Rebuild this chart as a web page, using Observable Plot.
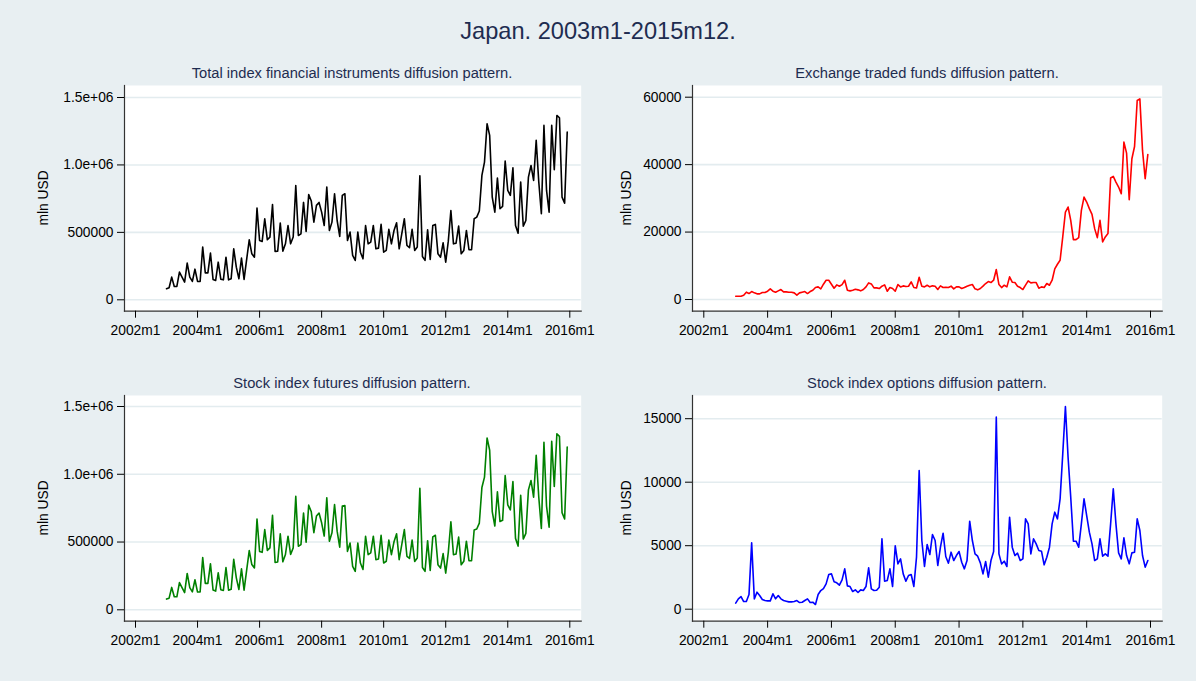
<!DOCTYPE html>
<html><head><meta charset="utf-8">
<script src="https://cdn.jsdelivr.net/npm/d3@7"></script>
<script src="https://cdn.jsdelivr.net/npm/@observablehq/plot@0.6"></script>
<style>
body{margin:0;background:#e8eff2;}
#chart{position:relative;width:1196px;height:681px;background:#e8eff2;font-family:"Liberation Sans",Arial,sans-serif;overflow:hidden;}
.title{position:absolute;left:0;width:1196px;text-align:center;font-size:23.6px;line-height:1;color:#1e2c50;white-space:nowrap;}
.sub{position:absolute;width:480px;text-align:center;font-size:14.7px;line-height:1;color:#1e2c50;white-space:nowrap;}
.panel{position:absolute;}
</style></head><body>
<div id="chart">
  <div class="title" style="top:19.5px">Japan. 2003m1-2015m12.</div>
  <div class="sub" style="left:112px;top:65.8px">Total index financial instruments diffusion pattern.</div>
  <div class="sub" style="left:687px;top:65.8px">Exchange traded funds diffusion pattern.</div>
  <div class="sub" style="left:112px;top:375.8px">Stock index futures diffusion pattern.</div>
  <div class="sub" style="left:687px;top:375.8px">Stock index options diffusion pattern.</div>
  <div class="panel" id="p1" style="left:0;top:60px"></div>
  <div class="panel" id="p2" style="left:598px;top:60px"></div>
  <div class="panel" id="p3" style="left:0;top:370px"></div>
  <div class="panel" id="p4" style="left:598px;top:370px"></div>
</div>
<script>
// months counted from 2002m1 (=0); first observation is 2003m1
const firstMonth = 12;
const xTickMonths = [0, 24, 48, 72, 96, 120, 144, 168];
const xTickLabels = ["2002m1","2004m1","2006m1","2008m1","2010m1","2012m1","2014m1","2016m1"];

// Total index financial instruments, mln USD, 2003m1..2015m12
const total = [
  81600, 89000, 168000, 99000, 99000, 205000, 168000, 131000, 272000, 168000, 136000, 227000,
  136000, 136000, 391000, 200000, 200000, 346000, 151000, 143000, 279000, 153000, 148000, 316000,
  148000, 156000, 378000, 242000, 156000, 309000, 151000, 300000, 445000, 341000, 316000, 680000,
  440000, 433000, 601000, 445000, 465000, 707000, 358000, 361000, 569000, 361000, 415000, 551000,
  415000, 465000, 848000, 477000, 489000, 722000, 507000, 781000, 732000, 576000, 700000, 722000,
  650000, 551000, 836000, 514000, 576000, 786000, 588000, 470000, 774000, 786000, 440000, 502000,
  329000, 292000, 502000, 353000, 304000, 551000, 415000, 428000, 551000, 378000, 383000, 559000,
  353000, 366000, 522000, 415000, 514000, 571000, 378000, 489000, 601000, 403000, 386000, 522000,
  366000, 391000, 920000, 321000, 292000, 519000, 299000, 551000, 559000, 341000, 316000, 423000,
  279000, 435000, 662000, 415000, 420000, 546000, 341000, 366000, 514000, 371000, 371000, 601000,
  613000, 658000, 922000, 1021000, 1305000, 1219000, 761000, 650000, 902000, 675000, 692000, 1028000,
  811000, 774000, 979000, 551000, 494000, 873000, 546000, 588000, 910000, 996000, 885000, 1182000,
  873000, 638000, 1293000, 811000, 650000, 1293000, 964000, 1367000, 1350000, 761000, 717000, 1243000
];

// Exchange traded funds
const etf = [
  985, 985, 985, 1280, 2170, 1770, 2360, 1970, 1670, 1670, 2070, 2070,
  2460, 3150, 2460, 2170, 2560, 2950, 2270, 2270, 2170, 2170, 1970, 1280,
  1970, 2170, 2360, 1770, 2360, 2760, 3550, 3740, 3150, 4530, 5710, 5710,
  4530, 3350, 4330, 3940, 4430, 5710, 2760, 2560, 2760, 3050, 2860, 2560,
  2950, 3740, 4930, 4630, 3450, 3450, 3250, 3940, 4330, 2460, 3550, 3250,
  2460, 4430, 3740, 4040, 3840, 3940, 5220, 3550, 3400, 6600, 3950, 3750,
  4240, 3750, 4050, 3950, 2960, 4050, 3550, 3650, 3550, 3950, 3160, 3750,
  3750, 3260, 3550, 3950, 4240, 4440, 3160, 2860, 3260, 3950, 4740, 5330,
  5030, 5720, 8880, 4440, 3550, 4240, 3750, 6710, 5130, 5030, 3950, 3550,
  2960, 4240, 5530, 4930, 5030, 5030, 3360, 3750, 3550, 4740, 4240, 5720,
  9080, 10460, 11640, 18550, 25950, 27430, 23490, 17760, 17760, 18350, 26450, 30390,
  28910, 26940, 25260, 21020, 18350, 23490, 17070, 18550, 19540, 36020, 36510, 34830,
  33350, 31380, 46680, 43420, 29600, 41740, 45390, 59010, 59500, 44210, 35820, 43020
];

// Stock index futures
const futures = [
  79000, 86000, 165000, 96000, 96000, 201000, 163000, 127000, 268000, 164000, 132000, 222000,
  131000, 131000, 385000, 195000, 195000, 340000, 146000, 138000, 273000, 148000, 143000, 311000,
  144000, 151000, 372000, 236000, 150000, 302000, 145000, 293000, 437000, 334000, 309000, 670000,
  431000, 424000, 592000, 438000, 457000, 697000, 350000, 353000, 561000, 354000, 408000, 543000,
  408000, 457000, 838000, 469000, 481000, 713000, 498000, 772000, 723000, 569000, 692000, 714000,
  642000, 544000, 826000, 506000, 568000, 777000, 580000, 462000, 765000, 769000, 431000, 493000,
  321000, 284000, 493000, 345000, 297000, 542000, 407000, 420000, 543000, 370000, 375000, 550000,
  345000, 358000, 514000, 407000, 502000, 561000, 370000, 481000, 592000, 395000, 379000, 514000,
  357000, 382000, 896000, 312000, 284000, 510000, 291000, 538000, 550000, 333000, 308000, 415000,
  271000, 424000, 650000, 406000, 411000, 536000, 332000, 358000, 506000, 363000, 362000, 589000,
  596000, 640000, 902000, 979000, 1268000, 1177000, 724000, 618000, 870000, 651000, 660000, 991000,
  774000, 737000, 947000, 527000, 470000, 845000, 522000, 564000, 885000, 954000, 831000, 1140000,
  830000, 600000, 1236000, 765000, 610000, 1243000, 910000, 1298000, 1280000, 717000, 670000, 1201000
];

// Stock index options
const options = [
  473, 814, 998, 604, 604, 1155, 5224, 814, 1339, 1076, 761, 683,
  656, 656, 1208, 814, 1076, 814, 683, 630, 578, 578, 604, 683,
  525, 551, 683, 814, 525, 551, 368, 1155, 1470, 1628, 1995, 2730,
  2783, 2153, 2074, 1890, 2310, 3176, 1838, 1785, 1391, 1523, 1313, 1523,
  1470, 1785, 3255, 1601, 1470, 1496, 1733, 5539, 2205, 2258, 3176, 1785,
  4988, 3570, 3964, 2783, 2205, 2651, 2730, 1785, 4095, 10920, 5408, 3360,
  5093, 4305, 5880, 5408, 3439, 4883, 5985, 4148, 3623, 4489, 3833, 4226,
  4541, 3701, 3176, 3833, 6930, 5408, 4358, 4174, 3649, 2783, 3754, 2520,
  3833, 4541, 15120, 4358, 3570, 3780, 3360, 7245, 4883, 4226, 4410, 3833,
  3964, 7114, 6720, 4358, 5539, 5145, 4620, 4568, 3491, 4095, 4883, 6720,
  7639, 7114, 8689, 12233, 15960, 11970, 8820, 5355, 5355, 4883, 6720, 8689,
  7376, 6064, 5145, 3833, 3964, 5539, 4174, 4358, 4174, 6720, 9476, 6720,
  4436, 3964, 5618, 4226, 3570, 4436, 4489, 7114, 6195, 4226, 3308, 3833
];

const yTicksBig = [0, 500000, 1000000, 1500000];
const yLabelsBig = ["0", "500000", "1.0e+06", "1.5e+06"];
const yTicksEtf = [0, 20000, 40000, 60000];
const yLabelsEtf = ["0", "20000", "40000", "60000"];
const yTicksOpt = [0, 5000, 10000, 15000];
const yLabelsOpt = ["0", "5000", "10000", "15000"];
const yTitle = "mln USD";

const FONT = '"Liberation Sans", Arial, sans-serif';
const W = 598, H = 310, MT = 25, MB = 59.3;

function panel(el, cfg) {
  const data = cfg.values.map((v, i) => ({m: firstMonth + i, v}));
  const xMap = new Map(xTickMonths.map((m, i) => [m, xTickLabels[i]]));
  const yMap = new Map(cfg.yTicks.map((t, i) => [t, cfg.yLabels[i]]));
  const plot = Plot.plot({
    width: W, height: H,
    marginLeft: cfg.mL, marginRight: cfg.mR, marginTop: MT, marginBottom: MB,
    style: {background: "transparent", fontFamily: FONT, fontSize: "13.8px", color: "#000", overflow: "visible"},
    x: {type: "linear", domain: [0, 168], insetLeft: cfg.iL, insetRight: cfg.iR},
    y: {type: "linear", domain: cfg.yDomain, insetTop: cfg.iT, insetBottom: cfg.iB},
    marks: [
      Plot.frame({fill: "white", stroke: "none"}),
      Plot.ruleY(cfg.yTicks, {stroke: "#e3ecef", strokeWidth: 1.6}),
      Plot.line(data, {x: "m", y: "v", stroke: cfg.color, strokeWidth: 1.6}),
      Plot.frame({anchor: "left", stroke: "#333", strokeWidth: 1.2}),
      Plot.frame({anchor: "bottom", stroke: "#333", strokeWidth: 1.2}),
      Plot.axisY(cfg.yTicks, {tickFormat: d => yMap.get(d), tickSize: 7, tickPadding: 4, label: null, fontSize: 13.8}),
      Plot.axisX(xTickMonths, {tickFormat: d => xMap.get(d), tickSize: 7, tickPadding: 7, label: null, fontSize: 13.8})
    ]
  });
  d3.select(plot).append("text")
    .attr("transform", `translate(${cfg.labelX},${(MT + H - MB) / 2}) rotate(-90)`)
    .attr("text-anchor", "middle").attr("dy", "0.35em")
    .attr("font-family", FONT).attr("font-size", "13.8px").attr("fill", "#000")
    .text(yTitle);
  document.getElementById(el).appendChild(plot);
}

panel("p1", {values: total, color: "#000000", yTicks: yTicksBig, yLabels: yLabelsBig, yDomain: [0, 1500000],
  mL: 124, mR: 17.3, iL: 11, iR: 11.4, iT: 12, iB: 11.4, labelX: 43});
panel("p2", {values: etf, color: "#ff0000", yTicks: yTicksEtf, yLabels: yLabelsEtf, yDomain: [0, 60000],
  mL: 94, mR: 34.3, iL: 11.3, iR: 11.7, iT: 11.7, iB: 11.7, labelX: 28});
panel("p3", {values: futures, color: "#008000", yTicks: yTicksBig, yLabels: yLabelsBig, yDomain: [0, 1500000],
  mL: 124, mR: 17.3, iL: 11, iR: 11.4, iT: 11, iB: 11.4, labelX: 43});
panel("p4", {values: options, color: "#0000ff", yTicks: yTicksOpt, yLabels: yLabelsOpt, yDomain: [0, d3.max(options)],
  mL: 94, mR: 34.3, iL: 11.3, iR: 11.7, iT: 11, iB: 12, labelX: 28});
</script>
</body></html>
